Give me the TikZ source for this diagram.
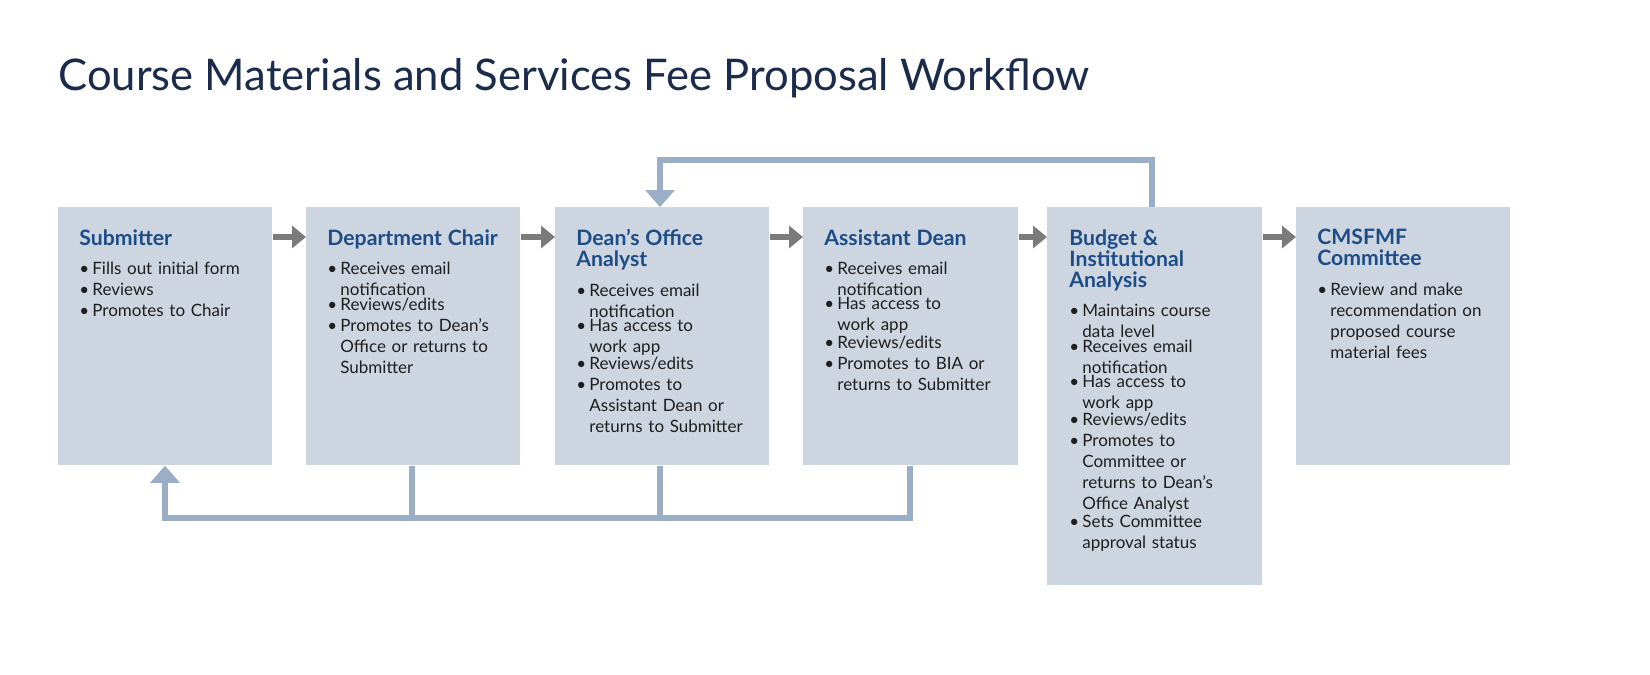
\documentclass[tikz,border=0pt]{standalone}
\usepackage{fontspec}
\setmainfont{Lato}
\usetikzlibrary{arrows.meta}
\definecolor{boxc}{HTML}{CDD5E0}
\definecolor{headc}{HTML}{1D4C86}
\definecolor{titlec}{HTML}{1A2B4C}
\definecolor{loopc}{HTML}{9AAEC6}
\definecolor{arrc}{HTML}{7B7B7B}
\definecolor{txtc}{HTML}{1E1E1E}
\newcommand\hd[1]{{\color{headc}\fontsize{10.6}{10.5}\selectfont\bfseries #1}\par\vspace{4.2pt}}
\newcommand\itm[1]{\par\noindent\makebox[6.5pt][l]{•}\parbox[t]{103pt}{\raggedright #1}\par}
\tikzset{
  box/.style={fill=boxc,draw=none,anchor=north west,inner sep=0pt},
  btext/.style={anchor=north west,inner sep=0pt,text width=110pt,align=left,font=\fontsize{8.5}{10.5}\selectfont,text=txtc},
  flow/.style={draw=arrc,line width=3pt,-{Triangle[length=7pt,width=11pt]}},
  loop/.style={draw=loopc,line width=2.6pt}
}
\begin{document}
\begin{tikzpicture}[x=0.5pt,y=-0.5pt]
\useasboundingbox (0,0) rectangle (1650,675);
\node[anchor=west,inner sep=0pt,text=titlec,font=\fontsize{21.8}{24}\selectfont] (title) at (58,78) {Course Materials and Services Fee Proposal Workflow};
\node[box,minimum width=107pt,minimum height=129pt] (b1) at (58,207) {};
\node[box,minimum width=107pt,minimum height=129pt] (b2) at (306,207) {};
\node[box,minimum width=107pt,minimum height=129pt] (b3) at (555,207) {};
\node[box,minimum width=107.5pt,minimum height=129pt] (b4) at (803,207) {};
\node[box,minimum width=107.5pt,minimum height=189pt] (b5) at (1047,207) {};
\node[box,minimum width=107pt,minimum height=129pt] (b6) at (1296,207) {};
\node[btext] (t1) at (79,229) {\hd{Submitter}\itm{Fills out initial form}\itm{Reviews}\itm{Promotes to Chair}};
\node[btext] (t2) at (327,229) {\hd{Department Chair}\itm{Receives email\\notification}\itm{Reviews/edits}\itm{Promotes to Dean’s\\Office or returns to\\Submitter}};
\node[btext] (t3) at (576,229) {\hd{Dean’s Office\\Analyst}\itm{Receives email\\notification}\itm{Has access to\\work app}\itm{Reviews/edits}\itm{Promotes to\\Assistant Dean or\\returns to Submitter}};
\node[btext] (t4) at (824,229) {\hd{Assistant Dean}\itm{Receives email\\notification}\itm{Has access to\\work app}\itm{Reviews/edits}\itm{Promotes to BIA or\\returns to Submitter}};
\node[btext] (t5) at (1069,229) {\hd{Budget \&\\Institutional\\Analysis}\itm{Maintains course\\data level}\itm{Receives email\\notification}\itm{Has access to\\work app}\itm{Reviews/edits}\itm{Promotes to\\Committee or\\returns to Dean’s\\Office Analyst}\itm{Sets Committee\\approval status}};
\node[btext] (t6) at (1317,229) {\hd{CMSFMF\\Committee}\itm{Review and make\\recommendation on\\proposed course\\material fees}};
\foreach \a/\b in {b1/b2,b2/b3,b3/b4,b4/b5,b5/b6}
  \draw[flow] (\a.east|-0,237) -- (\b.west|-0,237);
\coordinate (u1) at (1152,160);
\coordinate (u2) at (660,160);
\draw[loop] (b5.north-|u1) -- (u1) -- (u2) -- ([yshift=8pt]b3.north-|u2);
\fill[loopc] (b3.north-|u2) -- ++(-15,-17) -- ++(30,0) -- cycle;
\coordinate (l1) at (412,518);
\coordinate (l2) at (660,518);
\coordinate (l3) at (910,518);
\coordinate (l0) at (165,518);
\draw[loop] (b2.south-|l1) -- (l1);
\draw[loop] (b3.south-|l2) -- (l2);
\draw[loop] (b4.south-|l3) -- (l3) -- (l0) -- ([yshift=-8pt]b1.south-|l0);
\fill[loopc] (b1.south-|l0) -- ++(-15,17) -- ++(30,0) -- cycle;
\end{tikzpicture}
\end{document}
